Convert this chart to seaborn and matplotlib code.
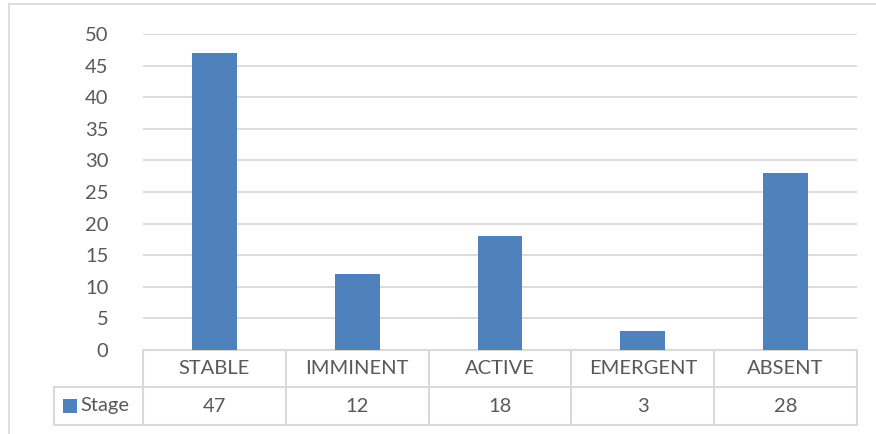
import matplotlib
matplotlib.use("Agg")
import matplotlib.pyplot as plt
from matplotlib.patches import Rectangle
import seaborn as sns
import pandas as pd

stages = ["STABLE", "IMMINENT", "ACTIVE", "EMERGENT", "ABSENT"]
counts = [47, 12, 18, 3, 28]
series_name = "Stage"
y_ticks = [0, 5, 10, 15, 20, 25, 30, 35, 40, 45, 50]

BAR = "#4F81BD"
GRID = "#D9D9D9"
TEXT = "#595959"
FONT = "Lato"
FS = 14.5

sns.set_theme(style="white")
plt.rcParams["font.family"] = [FONT, "DejaVu Sans"]

W, H = 876, 434
fig = plt.figure(figsize=(W / 100, H / 100), dpi=100)

# plot area in pixel terms
x0, x1, ytop, ybot = 143, 857, 34, 350
ax = fig.add_axes([x0 / W, 1 - ybot / H, (x1 - x0) / W, (ybot - ytop) / H])

df = pd.DataFrame({"stage": stages, "count": counts})
sns.barplot(data=df, x="stage", y="count", color=BAR, saturation=1,
            width=0.315, ax=ax, zorder=3, linewidth=0)
ax.set_xlim(-0.5, len(stages) - 0.5)
ax.set_ylim(0, 50)
ax.set_yticks(y_ticks)
ax.set_yticklabels([str(t) for t in y_ticks], color=TEXT, fontsize=FS)
ax.tick_params(axis="y", length=0, pad=25)
ax.set_xticks([])
ax.set_xlabel("")
ax.set_ylabel("")
for s in ax.spines.values():
    s.set_visible(False)
ax.grid(axis="y", color=GRID, linewidth=1.3, zorder=0)
ax.set_axisbelow(True)

# data table below the axes (axes coordinates)
ph = ybot - ytop
pw = x1 - x0
def ay(py):
    return (ybot - py) / ph
def ax_(px):
    return (px - x0) / pw

row1_bot = ay(387)
row2_bot = ay(425)
leg_left = ax_(54)
lk = dict(color=GRID, linewidth=1.5, transform=ax.transAxes, clip_on=False)
ax.plot([0, 1], [0, 0], **lk)
ax.plot([leg_left, 1], [row1_bot, row1_bot], **lk)
ax.plot([leg_left, 1], [row2_bot, row2_bot], **lk)
ax.plot([leg_left, leg_left], [row1_bot, row2_bot], **lk)
n = len(stages)
for i in range(n + 1):
    ax.plot([i / n, i / n], [0, row2_bot], **lk)

for i, (s, v) in enumerate(zip(stages, counts)):
    cx = (i + 0.5) / n
    ax.text(cx, (0 + row1_bot) / 2, s, ha="center", va="center",
            color=TEXT, fontsize=FS, transform=ax.transAxes, clip_on=False)
    ax.text(cx, (row1_bot + row2_bot) / 2, str(v), ha="center", va="center",
            color=TEXT, fontsize=FS, transform=ax.transAxes, clip_on=False)

# legend key inside the row header cell
ym = (row1_bot + row2_bot) / 2
ax.add_patch(Rectangle((ax_(63), ym - 7 / ph), 14 / pw, 14 / ph, facecolor=BAR,
                       edgecolor="none", transform=ax.transAxes, clip_on=False))
ax.text(ax_(80), ym, series_name, ha="left", va="center", color=TEXT,
        fontsize=FS, transform=ax.transAxes, clip_on=False)

# chart area border
fig.add_artist(plt.Line2D([9 / W, 1], [1 - 4 / H, 1 - 4 / H], color=GRID,
                          linewidth=1.2, transform=fig.transFigure))
fig.add_artist(plt.Line2D([9 / W, 9 / W], [0, 1 - 4 / H], color=GRID,
                          linewidth=1.2, transform=fig.transFigure))

fig.savefig("out.png", dpi=100)
